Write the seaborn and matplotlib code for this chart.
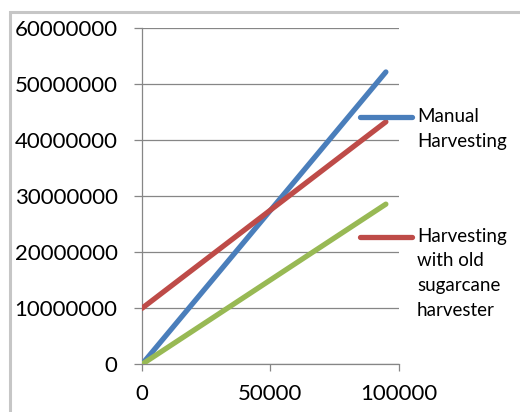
import matplotlib
matplotlib.use("Agg")
import matplotlib.pyplot as plt
from matplotlib.lines import Line2D
from matplotlib.patches import Rectangle
from matplotlib.ticker import FuncFormatter
import numpy as np
import pandas as pd
import seaborn as sns

# Harvesting area (x) and cost (y) for the three methods
area = [0, 95000]
manual = [0, 52200000]
old_harvester = [10000000, 43300000]
new_harvester = [0, 28600000]

series_names = ["Manual Harvesting",
                "Harvesting with old sugarcane harvester",
                "Harvesting with new sugarcane harvester"]
legend_labels = ["Manual\nHarvesting",
                 "Harvesting\nwith old\nsugarcane\nharvester"]
colors = ["#4A7EBB", "#BE4B48", "#98B954"]

y_ticks = [0, 10000000, 20000000, 30000000, 40000000, 50000000, 60000000]
x_ticks = [0, 50000, 100000]

df = pd.DataFrame({
    "area": area * 3,
    "cost": manual + old_harvester + new_harvester,
    "method": [series_names[0]] * 2 + [series_names[1]] * 2 + [series_names[2]] * 2,
})

sns.set_style("white")
plt.rcParams["font.family"] = ["Lato", "DejaVu Sans"]

W, H = 520, 412
fig = plt.figure(figsize=(W / 100, H / 100), dpi=100)
ax = fig.add_axes([142 / W, 1 - 364.3 / H, (398.7 - 142) / W, 336 / H])

grid_c = "#868686"
sns.lineplot(data=df, x="area", y="cost", hue="method", hue_order=series_names,
             palette=colors, linewidth=3.8, legend=False, ax=ax,
             solid_capstyle="round", zorder=3)

ax.set_xlim(0, 100000)
ax.set_ylim(0, 60000000)
ax.set_xticks(x_ticks)
ax.set_yticks(y_ticks)
fmt = FuncFormatter(lambda v, p: f"{int(round(v))}")
ax.xaxis.set_major_formatter(fmt)
ax.yaxis.set_major_formatter(fmt)
ax.set_xlabel("")
ax.set_ylabel("")

ax.yaxis.grid(True, color=grid_c, linewidth=0.9)
ax.xaxis.grid(False)
for s in ["top", "right"]:
    ax.spines[s].set_visible(False)
for s in ["left", "bottom"]:
    ax.spines[s].set_color(grid_c)
    ax.spines[s].set_linewidth(0.9)
ax.tick_params(axis="y", direction="out", length=6, width=0.9, color=grid_c,
               pad=11.5, labelsize=16, labelcolor="#000000", left=True)
ax.tick_params(axis="x", direction="out", length=5, width=0.9, color=grid_c,
               pad=9, labelsize=16, labelcolor="#000000", bottom=True)

# Legend entries drawn beside the plot area
handle_y = [117.3, 236.7]
for lab, col, hy in zip(legend_labels, colors[:2], handle_y):
    fig.add_artist(Line2D([360 / W, 412 / W], [1 - hy / H, 1 - hy / H],
                          color=col, linewidth=3.8, solid_capstyle="round",
                          transform=fig.transFigure))
    fig.text(417 / W, 1 - (hy - 9) / H, lab, fontsize=13.5, color="#000000",
             va="top", ha="left", linespacing=1.55)

# Outer chart border
fig.add_artist(Rectangle((9.5 / W, -0.2), 1.2, 1.2 - 11.5 / H,
                         transform=fig.transFigure, fill=False,
                         edgecolor="#c6c6c6", linewidth=2.2))

fig.savefig("out.png", dpi=100)
